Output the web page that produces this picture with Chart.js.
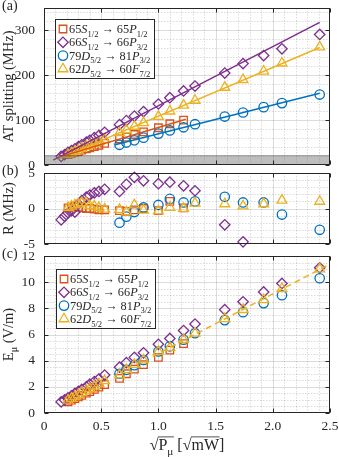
<!DOCTYPE html>
<html>
<head>
<meta charset="utf-8">
<script src="https://cdn.jsdelivr.net/npm/chart.js@4.4.1/dist/chart.umd.min.js"></script>
<style>
  html, body { margin: 0; padding: 0; background: #fff; }
  #wrap { position: relative; width: 339px; height: 457px; overflow: hidden; }
  .panel { position: absolute; left: 0; width: 339px; }
</style>
</head>
<body>
<div id="wrap">
  <div class="panel" style="top:0;height:178px"><canvas id="chartA"></canvas></div>
  <div class="panel" style="top:158px;height:96px"><canvas id="chartB"></canvas></div>
  <div class="panel" style="top:244px;height:213px"><canvas id="chartC"></canvas></div>
</div>
<script>
// sqrt(P) values, shared by all panels
const xLow = [0.15, 0.18, 0.21, 0.24, 0.27, 0.30, 0.33, 0.37, 0.40, 0.44, 0.48, 0.53];
const xHigh = [0.66, 0.72, 0.79, 0.87, 1.00, 1.10, 1.22, 1.32, 1.58, 1.74, 1.92, 2.08, 2.41];

const xS12 = xLow.slice(2).concat(xHigh.slice(0, 7));
const xS32 = xLow.concat(xHigh);
const xS32res = xLow.concat(xHigh.slice(0, 10));
const xD81 = xHigh;
const xD60 = xLow.slice(2).concat(xHigh);

// (a) AT splitting (MHz)
const atS12 = [23, 26, 28, 30, 33, 36, 38, 41, 44, 48, 58, 62, 68, 74, 83, 92, 100];
const atS32 = [19, 23, 28, 32, 36, 41, 45, 51, 55, 61, 66, 73, 90, 99, 109, 119, 136, 150, 165, 176, 205, 226, 244, 259, 291];
const atD81 = [45, 50, 55, 61, 70, 77, 84, 91, 108, 117, 129, 138, 157];
const atD60 = [23, 26, 30, 33, 37, 41, 44, 48, 52, 57, 72, 78, 86, 94, 108, 120, 133, 144, 173, 190, 209, 227, 263];

// (a) linear fits, end points
const fitS12 = [[0.13, 17.5], [1.24, 102]];
const fitS32 = [[0.08, 11], [2.41, 318]];
const fitD81 = [[0.62, 45], [2.41, 160]];
const fitD60 = [[0.12, 13], [2.41, 262]];

// (b) residuals (MHz)
const resS12 = [0.1, 0.2, 0.3, 0.2, 0.1, 0.0, 0.0, -0.1, -0.2, -0.2, -0.3, -0.4, -0.2, 0.0, -0.3, 1.0, 0.1];
const resS32 = [-1.6, -1.1, -0.6, -0.3, -0.5, 0.6, 1.1, 1.6, 1.9, 2.2, 2.4, 2.7, 2.4, 3.4, 4.4, 3.9, 3.5, 3.7, 3.2, 2.5, -2.3, -4.7];
const resD81 = [-2.0, -1.15, -0.5, 0.15, 0.5, 1.35, 0.85, 1.0, 1.65, 0.85, 0.85, -0.85, -3.0];
const resD60 = [0.1, 0.3, 0.5, 0.6, 0.8, 0.8, 0.4, 0.3, 0.1, -0.1, -0.15, -0.5, 0.5, -0.25, -0.35, 0.15, 0.0, 0.75, 0.65, 0.35, 0.65, 1.15, 1.0];

// (c) field amplitude (V/m)
const eS12 = [0.86, 0.98, 1.1, 1.23, 1.35, 1.52, 1.64, 1.8, 1.97, 2.17, 2.65, 3.0, 3.35, 3.7, 4.25, 4.8, 5.3];
const eS32 = [0.85, 1.0, 1.15, 1.3, 1.5, 1.65, 1.8, 2.0, 2.2, 2.4, 2.6, 2.9, 3.5, 3.85, 4.25, 4.6, 5.25, 5.7, 6.3, 6.8, 7.9, 8.5, 9.25, 9.9, 11.1];
const eD81 = [3.0, 3.3, 3.65, 4.05, 4.7, 5.1, 5.6, 6.1, 7.1, 7.7, 8.4, 9.0, 10.3];
const eD60 = [0.98, 1.1, 1.25, 1.4, 1.55, 1.72, 1.86, 2.05, 2.23, 2.46, 2.9, 3.3, 3.7, 4.05, 4.7, 5.0, 5.6, 6.1, 7.2, 7.9, 8.65, 9.5, 11.0];
const eFitD60 = [[0.95, 4.32], [2.5, 11.38]];

// legend text as runs: [text, style] ('' upright, 'i' italic, 's' subscript)
const legendLabels = [
  [['65', ''], ['S', 'i'], ['1/2', 's'], [' \u2192 65', ''], ['P', 'i'], ['1/2', 's']],
  [['66', ''], ['S', 'i'], ['1/2', 's'], [' \u2192 66', ''], ['P', 'i'], ['3/2', 's']],
  [['79', ''], ['D', 'i'], ['5/2', 's'], [' \u2192 81', ''], ['P', 'i'], ['3/2', 's']],
  [['62', ''], ['D', 'i'], ['5/2', 's'], [' \u2192 60', ''], ['F', 'i'], ['7/2', 's']],
];

const FONT = '"Liberation Serif", "Times New Roman", serif';
const INK = '#262626';
const series = [
  { color: '#D95319', style: 'rect', r: 5.3, order: 4 },
  { color: '#7E2F8E', style: 'rectRot', r: 5.2, order: 3 },
  { color: '#0072BD', style: 'circle', r: 4.7, order: 2 },
  { color: '#EDB120', style: 'triangle', r: 5.7, order: 1 },
];

function markerSet(s, xs, ys) {
  return {
    data: xs.map((x, i) => ({ x, y: ys[i] })),
    showLine: false, pointStyle: s.style, pointRadius: s.r, pointHoverRadius: s.r,
    pointBorderWidth: 1.3, pointBorderColor: s.color, borderColor: s.color,
    pointBackgroundColor: 'rgba(0,0,0,0)', clip: false, order: s.order
  };
}
function lineSet(color, pts, dash) {
  return {
    data: pts.map(([x, y]) => ({ x, y })), showLine: true, pointRadius: 0,
    borderColor: color, borderWidth: 1.5, borderDash: dash || [], order: 0
  };
}

function drawMarker(ctx, s, x, y) {
  const r = s.r;
  ctx.beginPath();
  if (s.style === 'rect') {
    const h = r * Math.SQRT1_2;
    ctx.rect(x - h, y - h, 2 * h, 2 * h);
  } else if (s.style === 'rectRot') {
    ctx.moveTo(x - r, y); ctx.lineTo(x, y - r); ctx.lineTo(x + r, y); ctx.lineTo(x, y + r); ctx.closePath();
  } else if (s.style === 'circle') {
    ctx.arc(x, y, r, 0, 2 * Math.PI);
  } else {
    const a = 2 * Math.PI / 3;
    ctx.moveTo(x, y - r);
    ctx.lineTo(x + Math.sin(a) * r, y - Math.cos(a) * r);
    ctx.lineTo(x - Math.sin(a) * r, y - Math.cos(a) * r);
    ctx.closePath();
  }
  ctx.strokeStyle = s.color; ctx.lineWidth = 1.3;
  ctx.stroke();
}

// lay out text runs, returns pieces with x offsets
function layoutRuns(ctx, runs, size) {
  let cx = 0;
  return runs.map(([t, st]) => {
    const fs = st === 's' ? size * 0.7 : size;
    const font = (st === 'i' ? 'italic ' : '') + fs + 'px ' + FONT;
    ctx.font = font;
    const w = ctx.measureText(t).width;
    const p = { t, font, x: cx, w, dy: st === 's' ? size * 0.3 : 0 };
    cx += w;
    return p;
  });
}
function drawRuns(ctx, x, y, runs, size, center) {
  const pieces = layoutRuns(ctx, runs, size);
  const total = pieces.reduce((s, p) => s + p.w, 0);
  const x0 = center ? x - total / 2 : x;
  ctx.textAlign = 'left'; ctx.textBaseline = 'alphabetic'; ctx.fillStyle = INK;
  pieces.forEach(p => { ctx.font = p.font; ctx.fillText(p.t, x0 + p.x, y + p.dy); });
  return { x0, pieces };
}

function gridLines(scale, step) {
  const n = Math.round((scale.max - scale.min) / step);
  const out = [];
  for (let i = 0; i <= n; i++) {
    const v = scale.min + i * step;
    out.push({ v, p: Math.round(scale.getPixelForValue(v)) + 0.5 });
  }
  return out;
}

function matlabPlugin(cfg) {
  return {
    id: 'matlab' + cfg.tag,
    beforeDatasetsDraw(chart) {
      const { ctx, chartArea: a, scales: { x, y } } = chart;
      ctx.save();
      ctx.beginPath(); ctx.rect(a.left, a.top, a.width, a.height); ctx.clip();
      const isMajor = (v, step) => Math.abs(v / step - Math.round(v / step)) < 1e-6;
      // minor grid
      ctx.strokeStyle = 'rgba(38,38,38,0.28)'; ctx.lineWidth = 0.6; ctx.setLineDash([1.5, 1.5]);
      ctx.beginPath();
      gridLines(x, 0.1).forEach(g => { if (!isMajor(g.v, 0.5)) { ctx.moveTo(g.p, a.top); ctx.lineTo(g.p, a.bottom); } });
      gridLines(y, cfg.yMinor).forEach(g => { if (!isMajor(g.v, cfg.yMajor)) { ctx.moveTo(a.left, g.p); ctx.lineTo(a.right, g.p); } });
      ctx.stroke();
      // major grid
      ctx.setLineDash([]); ctx.strokeStyle = 'rgba(38,38,38,0.16)'; ctx.lineWidth = 1;
      ctx.beginPath();
      gridLines(x, 0.5).forEach(g => { ctx.moveTo(g.p, a.top); ctx.lineTo(g.p, a.bottom); });
      gridLines(y, cfg.yMajor).forEach(g => { ctx.moveTo(a.left, g.p); ctx.lineTo(a.right, g.p); });
      ctx.stroke();
      ctx.restore();
    },
    afterDatasetsDraw(chart) {
      const { ctx, chartArea: a, scales: { x, y } } = chart;
      ctx.save();
      // shaded band below the resolution limit
      if (cfg.band) {
        const top = y.getPixelForValue(cfg.band);
        ctx.fillStyle = 'rgba(110,110,110,0.45)';
        ctx.fillRect(a.left, top, a.width, a.bottom - top);
        ctx.strokeStyle = 'rgba(60,60,60,0.5)'; ctx.lineWidth = 0.8;
        ctx.beginPath(); ctx.moveTo(a.left, top); ctx.lineTo(a.right, top); ctx.stroke();
      }
      // box and inward ticks
      ctx.strokeStyle = INK; ctx.lineWidth = 1;
      const L = Math.round(a.left) + 0.5, R = Math.round(a.right) - 0.5;
      const T = Math.round(a.top) + 0.5, B = Math.round(a.bottom) - 0.5;
      ctx.strokeRect(L, T, R - L, B - T);
      ctx.beginPath();
      gridLines(x, 0.5).forEach(g => { ctx.moveTo(g.p, B); ctx.lineTo(g.p, B - 4); ctx.moveTo(g.p, T); ctx.lineTo(g.p, T + 4); });
      gridLines(y, cfg.yMajor).forEach(g => { ctx.moveTo(L, g.p); ctx.lineTo(L + 4, g.p); ctx.moveTo(R, g.p); ctx.lineTo(R - 4, g.p); });
      ctx.stroke();

      // legend
      if (cfg.legend) {
        const lx = a.left + cfg.legend[0], ly = a.top + cfg.legend[1], lw = 99, lh = 59;
        ctx.fillStyle = '#fff'; ctx.fillRect(lx, ly, lw, lh);
        ctx.strokeStyle = INK; ctx.lineWidth = 1;
        ctx.strokeRect(Math.round(lx) + 0.5, Math.round(ly) + 0.5, lw, lh);
        series.forEach((s, i) => {
          const cy = ly + 10 + i * 13.3;
          drawMarker(ctx, s, lx + 8, cy);
          drawRuns(ctx, lx + 14, cy + 4, legendLabels[i], 12.3, false);
        });
      }

      // panel label
      ctx.fillStyle = INK; ctx.font = '14px ' + FONT;
      ctx.textAlign = 'left'; ctx.textBaseline = 'middle';
      ctx.fillText(cfg.label, 2, a.top - 2);

      // y title (rotated)
      ctx.save();
      ctx.translate(13, (a.top + a.bottom) / 2);
      ctx.rotate(-Math.PI / 2);
      drawRuns(ctx, 0, 0, cfg.yTitle, 14.5, true);
      ctx.restore();

      // x title with radical bars
      if (cfg.xTitle) {
        const size = 16;
        const runs = [['\u221A', ''], ['P', ''], ['\u03BC', 's'], [' [', ''], ['\u221A', ''], ['mW', ''], [']', '']];
        const base = a.bottom + 37;
        const res = drawRuns(ctx, (a.left + a.right) / 2, base, runs, size, true);
        const p = res.pieces, x0 = res.x0;
        const barY = base - size * 0.82;
        ctx.strokeStyle = INK; ctx.lineWidth = 0.8;
        ctx.beginPath();
        ctx.moveTo(x0 + p[1].x - 0.5, barY); ctx.lineTo(x0 + p[2].x + p[2].w + 0.5, barY);
        ctx.moveTo(x0 + p[5].x - 0.5, barY); ctx.lineTo(x0 + p[5].x + p[5].w + 0.5, barY);
        ctx.stroke();
      }
      ctx.restore();
    }
  };
}

function makeChart(id, cfg) {
  const onStep = (s, step) => { s.ticks = s.ticks.filter(t => Math.abs(t.value / step - Math.round(t.value / step)) < 1e-6); };
  return new Chart(document.getElementById(id), {
    type: 'scatter',
    data: { datasets: cfg.datasets },
    options: {
      responsive: true, maintainAspectRatio: false, animation: false,
      layout: { padding: cfg.padding },
      plugins: { legend: { display: false }, tooltip: { enabled: false } },
      scales: {
        x: {
          type: 'linear', min: 0, max: 2.5, display: !!cfg.xTitle,
          ticks: { stepSize: 0.5, padding: 5, color: INK, font: { family: FONT, size: 13.5 }, maxRotation: 0 },
          grid: { display: false, drawTicks: false }, border: { display: false },
          afterFit: s => {
            if (cfg.xTitle) s.height = 44;
            s.paddingLeft = 0; s.paddingRight = 0;
          }
        },
        y: {
          type: 'linear', min: cfg.yMin, max: cfg.yMax,
          ticks: { stepSize: cfg.yMajor, padding: 9, color: INK, font: { family: FONT, size: 13.5 } },
          grid: { display: false, drawTicks: false }, border: { display: false },
          afterBuildTicks: s => onStep(s, cfg.yMajor),
          afterFit: s => { s.width = 44; s.paddingTop = 0; s.paddingBottom = 0; }
        }
      }
    },
    plugins: [matlabPlugin(cfg)]
  });
}

const [cS12, cS32, cD81, cD60] = series.map(s => s.color);

makeChart('chartA', {
  tag: 'A', label: '(a)', yMin: 0, yMax: 350, yMajor: 100, yMinor: 20, band: 21,
  padding: { top: 8, bottom: 13, left: 0, right: 9 }, legend: [11, 11],
  yTitle: [['AT splitting (MHz)', '']],
  datasets: [
    markerSet(series[0], xS12, atS12),
    markerSet(series[1], xS32, atS32),
    markerSet(series[2], xD81, atD81),
    markerSet(series[3], xD60, atD60),
    lineSet(cS12, fitS12), lineSet(cS32, fitS32), lineSet(cD81, fitD81), lineSet(cD60, fitD60)
  ]
});

makeChart('chartB', {
  tag: 'B', label: '(b)', yMin: -5, yMax: 5, yMajor: 5, yMinor: 1,
  padding: { top: 15, bottom: 10, left: 0, right: 9 },
  yTitle: [['R (MHz)', '']],
  datasets: [
    markerSet(series[0], xS12, resS12),
    markerSet(series[1], xS32res, resS32),
    markerSet(series[2], xD81, resD81),
    markerSet(series[3], xD60, resD60)
  ]
});

makeChart('chartC', {
  tag: 'C', label: '(c)', yMin: 0, yMax: 12, yMajor: 2, yMinor: 0.5,
  padding: { top: 12, bottom: 0, left: 0, right: 9 }, legend: [12, 13],
  yTitle: [['E', ''], ['\u03BC', 's'], [' (V/m)', '']], xTitle: true,
  datasets: [
    markerSet(series[0], xS12, eS12),
    markerSet(series[1], xS32, eS32),
    markerSet(series[2], xD81, eD81),
    markerSet(series[3], xD60, eD60),
    lineSet(cD60, eFitD60, [6, 4])
  ]
});
</script>
</body>
</html>
